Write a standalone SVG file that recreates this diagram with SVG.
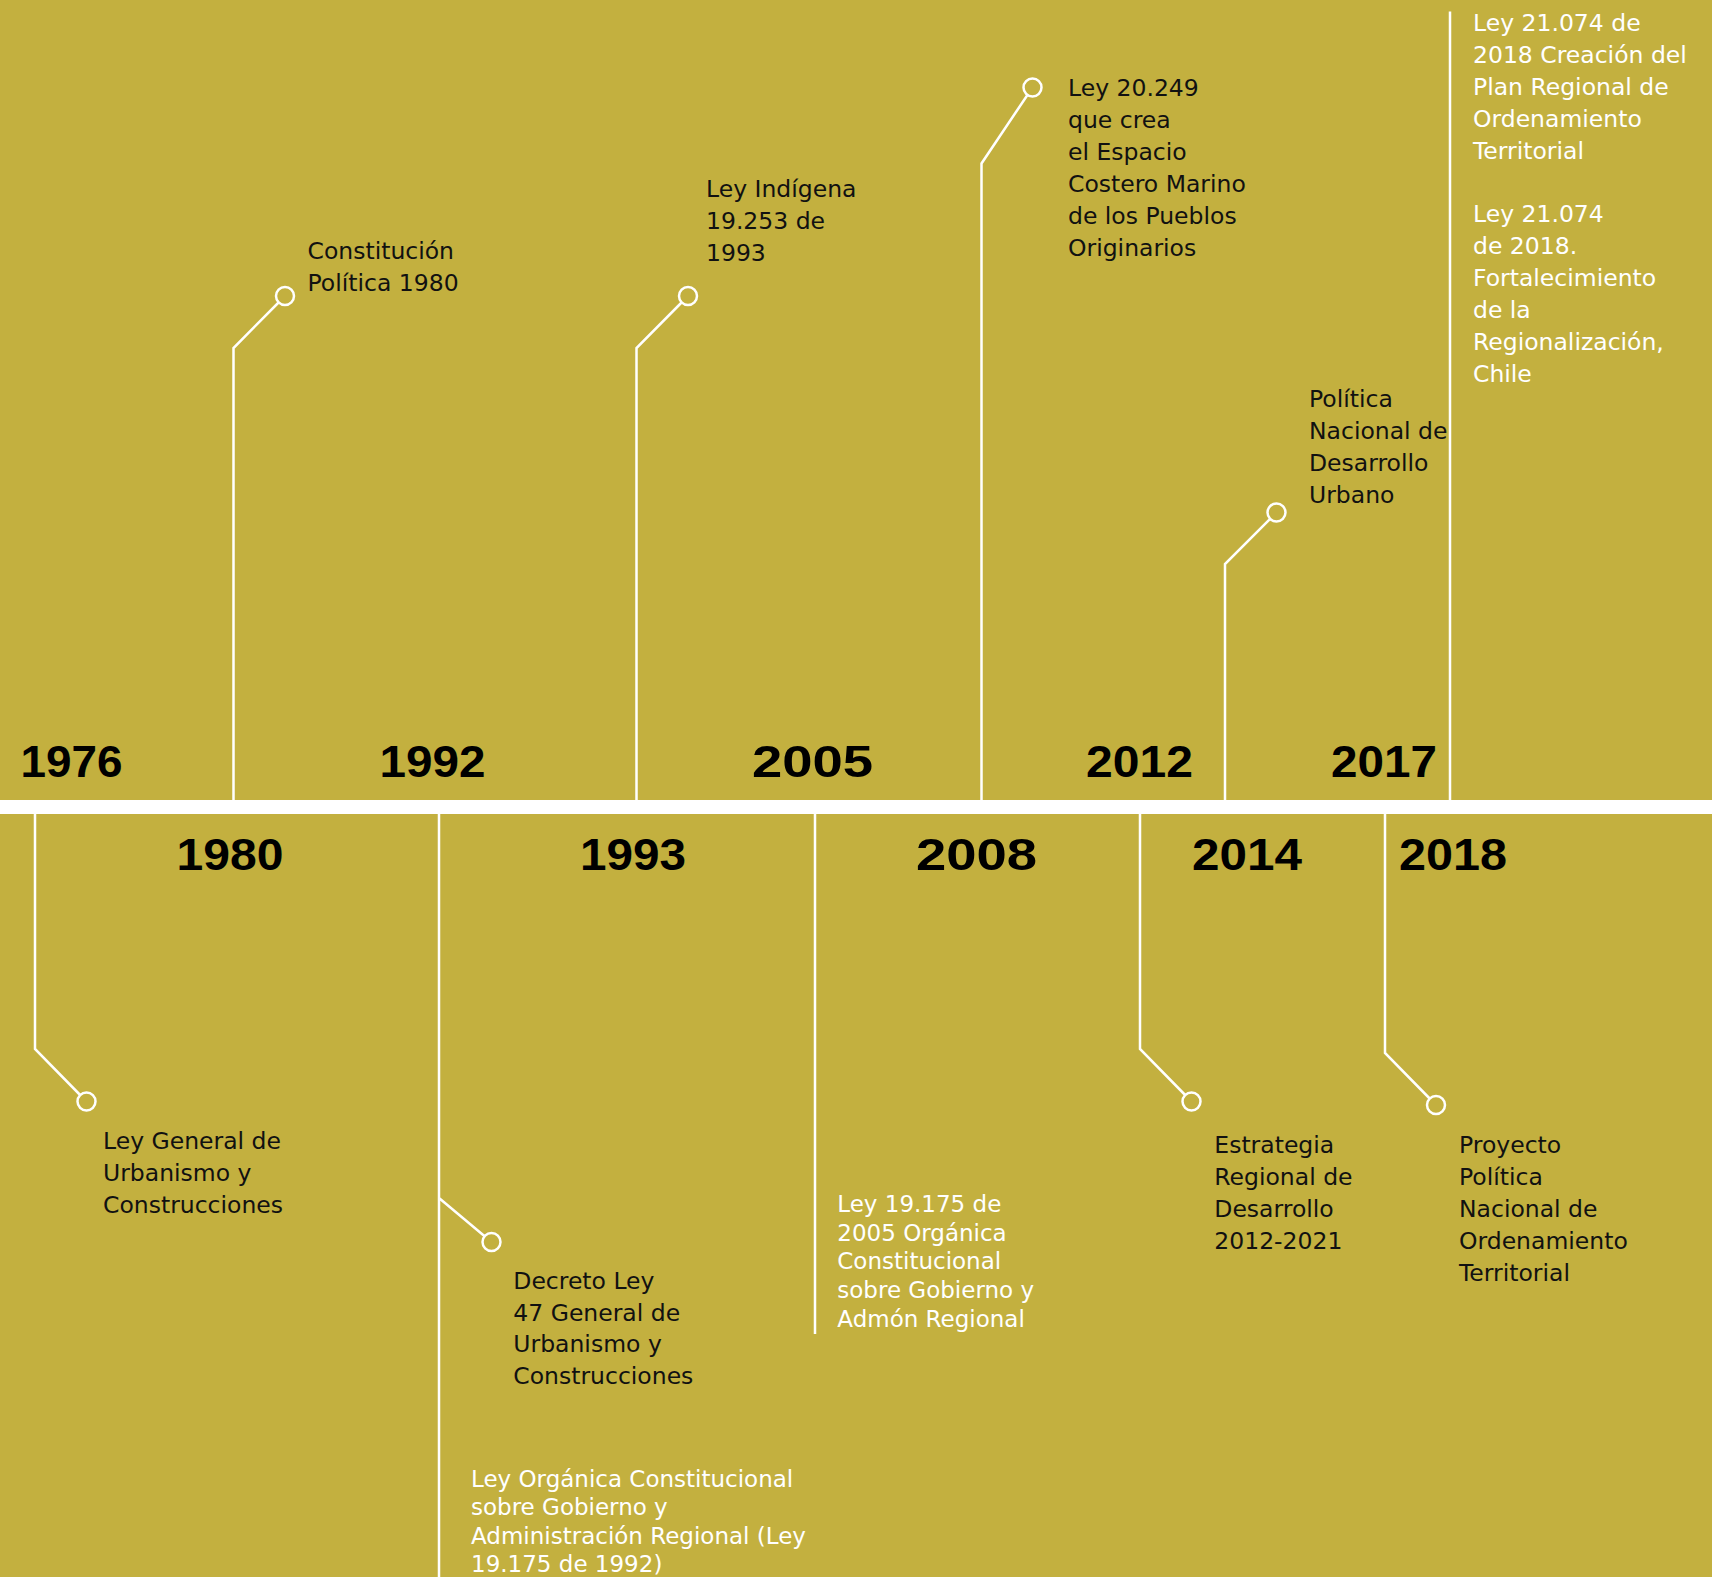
<svg xmlns="http://www.w3.org/2000/svg" width="1712" height="1577" viewBox="0 0 1712 1577">
<style>
.bg{fill:#c3b03f}
.ln{fill:none;stroke:#fff;stroke-width:2.5}
.dot{fill:#c3b03f;stroke:#fff;stroke-width:2.5}
.yr{font-family:"Liberation Sans",Arial,sans-serif;font-weight:bold;font-size:45px;fill:#000}
.tx{font-family:"DejaVu Sans",sans-serif;font-size:23.5px;fill:#111}
.tw{font-family:"DejaVu Sans",sans-serif;font-size:23px;fill:#fff}
.tw2{font-family:"DejaVu Sans",sans-serif;font-size:23.5px;fill:#fff}
</style>
<rect class="bg" x="0" y="0" width="1712" height="1577"/>
<rect id="timeline" x="0" y="800" width="1712" height="14" fill="#fff"/>
<g id="connectors">
<path class="ln" d="M233.5,800 V348 L285,296"/>
<path class="ln" d="M636.5,800 V348 L688,296"/>
<path class="ln" d="M981.5,800 V163.5 L1032.5,87.5"/>
<path class="ln" d="M1225,800 V564 L1276.5,512.5"/>
<path class="ln" d="M1450,800 V11.5"/>
<path class="ln" d="M35,814 V1049 L86.5,1101.5"/>
<path class="ln" d="M439,814 V1577 M439,1198 L491.5,1242"/>
<path class="ln" d="M815,814 V1334"/>
<path class="ln" d="M1140,814 V1049 L1191.5,1101.5"/>
<path class="ln" d="M1385,814 V1053 L1436,1105"/>
</g>
<g id="years">
<text class="yr" x="20.5" y="776.5" textLength="102" lengthAdjust="spacingAndGlyphs">1976</text>
<text class="yr" x="379.5" y="776.5" textLength="106" lengthAdjust="spacingAndGlyphs">1992</text>
<text class="yr" x="752" y="776.5" textLength="121" lengthAdjust="spacingAndGlyphs">2005</text>
<text class="yr" x="1086" y="776.5" textLength="107" lengthAdjust="spacingAndGlyphs">2012</text>
<text class="yr" x="1331" y="776.5" textLength="106" lengthAdjust="spacingAndGlyphs">2017</text>
<text class="yr" x="176.5" y="870" textLength="107" lengthAdjust="spacingAndGlyphs">1980</text>
<text class="yr" x="580" y="870" textLength="106" lengthAdjust="spacingAndGlyphs">1993</text>
<text class="yr" x="916" y="870" textLength="121" lengthAdjust="spacingAndGlyphs">2008</text>
<text class="yr" x="1192" y="870" textLength="110" lengthAdjust="spacingAndGlyphs">2014</text>
<text class="yr" x="1399" y="870" textLength="108" lengthAdjust="spacingAndGlyphs">2018</text>
</g>
<g id="n-constitucion">
<circle class="dot" cx="285" cy="296" r="9"/>
<text class="tx" x="307.5" y="259">Constitución</text>
<text class="tx" x="307.5" y="290.5">Política 1980</text>
</g>
<g id="n-indigena">
<circle class="dot" cx="688" cy="296" r="9"/>
<text class="tx" x="706" y="196.7">Ley Indígena</text>
<text class="tx" x="706" y="228.7">19.253 de</text>
<text class="tx" x="706" y="260.7">1993</text>
</g>
<g id="n-ley20249">
<circle class="dot" cx="1032.5" cy="87.5" r="9"/>
<text class="tx" x="1068" y="96">Ley 20.249</text>
<text class="tx" x="1068" y="128">que crea</text>
<text class="tx" x="1068" y="160">el Espacio</text>
<text class="tx" x="1068" y="192">Costero Marino</text>
<text class="tx" x="1068" y="224">de los Pueblos</text>
<text class="tx" x="1068" y="256">Originarios</text>
</g>
<g id="n-pndu">
<circle class="dot" cx="1276.5" cy="512.5" r="9"/>
<text class="tx" x="1309" y="407.3">Política</text>
<text class="tx" x="1309" y="439.3">Nacional de</text>
<text class="tx" x="1309" y="471.3">Desarrollo</text>
<text class="tx" x="1309" y="503.3">Urbano</text>
</g>
<g id="n-ley21074">
<text class="tw2" x="1473" y="30.7">Ley 21.074 de</text>
<text class="tw2" x="1473" y="62.7">2018 Creación del</text>
<text class="tw2" x="1473" y="94.7">Plan Regional de</text>
<text class="tw2" x="1473" y="126.7">Ordenamiento</text>
<text class="tw2" x="1473" y="158.7">Territorial</text>
<text class="tw2" x="1473" y="221.7">Ley 21.074</text>
<text class="tw2" x="1473" y="253.7">de 2018.</text>
<text class="tw2" x="1473" y="285.7">Fortalecimiento</text>
<text class="tw2" x="1473" y="317.7">de la</text>
<text class="tw2" x="1473" y="349.7">Regionalización,</text>
<text class="tw2" x="1473" y="381.7">Chile</text>
</g>
<g id="n-lgu">
<circle class="dot" cx="86.5" cy="1101.5" r="9"/>
<text class="tx" x="103" y="1149.3">Ley General de</text>
<text class="tx" x="103" y="1181">Urbanismo y</text>
<text class="tx" x="103" y="1212.7">Construcciones</text>
</g>
<g id="n-decreto">
<circle class="dot" cx="491.5" cy="1242" r="9"/>
<text class="tx" x="513.3" y="1289">Decreto Ley</text>
<text class="tx" x="513.3" y="1320.7">47 General de</text>
<text class="tx" x="513.3" y="1352.4">Urbanismo y</text>
<text class="tx" x="513.3" y="1384">Construcciones</text>
</g>
<g id="n-loc1992">
<text class="tw" x="471" y="1486.7">Ley Orgánica Constitucional</text>
<text class="tw" x="471" y="1515.3">sobre Gobierno y</text>
<text class="tw" x="471" y="1543.9">Administración Regional (Ley</text>
<text class="tw" x="471" y="1572.4">19.175 de 1992)</text>
</g>
<g id="n-ley19175">
<text class="tw" x="837.3" y="1211.7">Ley 19.175 de</text>
<text class="tw" x="837.3" y="1240.5">2005 Orgánica</text>
<text class="tw" x="837.3" y="1269.2">Constitucional</text>
<text class="tw" x="837.3" y="1298">sobre Gobierno y</text>
<text class="tw" x="837.3" y="1326.7">Admón Regional</text>
</g>
<g id="n-estrategia">
<circle class="dot" cx="1191.5" cy="1101.5" r="9"/>
<text class="tx" x="1214.3" y="1153.3">Estrategia</text>
<text class="tx" x="1214.3" y="1185.3">Regional de</text>
<text class="tx" x="1214.3" y="1217.3">Desarrollo</text>
<text class="tx" x="1214.3" y="1249.3">2012-2021</text>
</g>
<g id="n-pnot">
<circle class="dot" cx="1436" cy="1105" r="9"/>
<text class="tx" x="1459" y="1153.3">Proyecto</text>
<text class="tx" x="1459" y="1185.3">Política</text>
<text class="tx" x="1459" y="1217.3">Nacional de</text>
<text class="tx" x="1459" y="1249">Ordenamiento</text>
<text class="tx" x="1459" y="1280.7">Territorial</text>
</g>
</svg>
